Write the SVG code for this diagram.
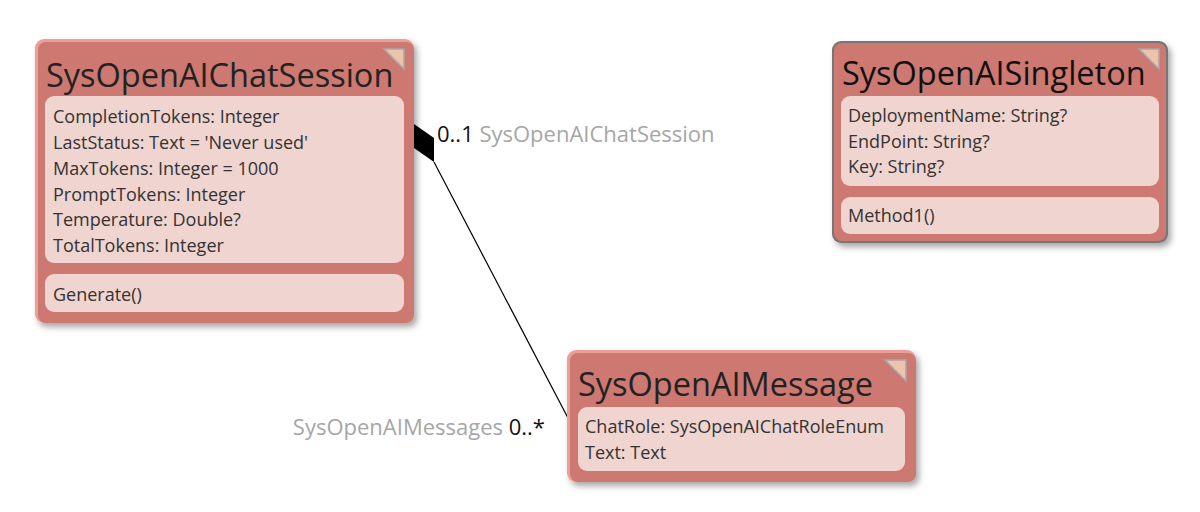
<svg xmlns="http://www.w3.org/2000/svg" width="1200" height="512" viewBox="0 0 1200 512">
<style>
.edge{fill:#ec9f97}
.body{fill:#cd7870}
.comp{fill:#f0d4d0}
.title{font-family:"Open Sans","Noto Sans",sans-serif;font-size:32.5px;fill:#222222}
.attr{font-family:"Open Sans","Noto Sans",sans-serif;font-size:18px;fill:#333333}
.tri{fill:#efc2ab;stroke:#a8a8a8;stroke-width:1.5}
.lbl{font-family:"Open Sans","Noto Sans",sans-serif;font-size:22px;fill:#a6a6a6}
.mult{fill:#111111}
.conn{stroke:#000000;stroke-width:1.2;fill:none}
</style>
<defs>
<filter id="sh" x="-10%" y="-10%" width="125%" height="125%">
<feDropShadow dx="3" dy="4" stdDeviation="3" flood-color="#000000" flood-opacity="0.35"/>
</filter>
</defs>
<rect width="1200" height="512" fill="#ffffff"/>
<g id="connectors">
<line class="conn" x1="434" y1="162" x2="568" y2="418"/>
<polygon points="414,124 434,138 434,162 414,148" fill="#000000"/>
<text class="lbl" x="437" y="142"><tspan class="mult">0..1</tspan> SysOpenAIChatSession</text>
<text class="lbl" x="545" y="435" text-anchor="end">SysOpenAIMessages <tspan class="mult">0..*</tspan></text>
</g>
<g id="SysOpenAIChatSession">
<g filter="url(#sh)">
<rect class="edge" x="35" y="39" width="379" height="284" rx="9"/>
<rect class="body" x="38" y="42" width="376" height="281" rx="8"/>
</g>
<polygon class="tri" points="384,49 404,49 404,69"/>
<text class="title" x="46" y="87">SysOpenAIChatSession</text>
<rect class="comp" x="45" y="96" width="359" height="167" rx="9"/>
<text class="attr" x="53" y="123">CompletionTokens: Integer</text>
<text class="attr" x="53" y="149">LastStatus: Text = 'Never used'</text>
<text class="attr" x="53" y="175">MaxTokens: Integer = 1000</text>
<text class="attr" x="53" y="201">PromptTokens: Integer</text>
<text class="attr" x="53" y="226">Temperature: Double?</text>
<text class="attr" x="53" y="252">TotalTokens: Integer</text>
<rect class="comp" x="45" y="274" width="359" height="38" rx="9"/>
<text class="attr" x="53" y="301">Generate()</text>
</g>
<g id="SysOpenAISingleton">
<g filter="url(#sh)">
<rect x="832" y="41" width="336" height="202" rx="9" fill="#767676"/>
<rect class="body" x="834" y="43" width="332" height="198" rx="8"/>
</g>
<polygon class="tri" points="1139,49 1159,49 1159,69"/>
<text class="title" x="842" y="85" style="fill:#111111">SysOpenAISingleton</text>
<rect class="comp" x="841" y="96" width="318" height="90" rx="9"/>
<text class="attr" x="848" y="122">DeploymentName: String?</text>
<text class="attr" x="848" y="148">EndPoint: String?</text>
<text class="attr" x="848" y="173">Key: String?</text>
<rect class="comp" x="841" y="197" width="318" height="37" rx="9"/>
<text class="attr" x="848" y="222">Method1()</text>
</g>
<g id="SysOpenAIMessage">
<g filter="url(#sh)">
<rect class="edge" x="567" y="350" width="349" height="132" rx="9"/>
<rect class="body" x="570" y="353" width="346" height="129" rx="8"/>
</g>
<polygon class="tri" points="885,360 906,360 906,381"/>
<text class="title" x="578" y="396">SysOpenAIMessage</text>
<rect class="comp" x="578" y="407" width="327" height="64" rx="9"/>
<text class="attr" x="585" y="433">ChatRole: SysOpenAIChatRoleEnum</text>
<text class="attr" x="585" y="459">Text: Text</text>
</g>
</svg>
